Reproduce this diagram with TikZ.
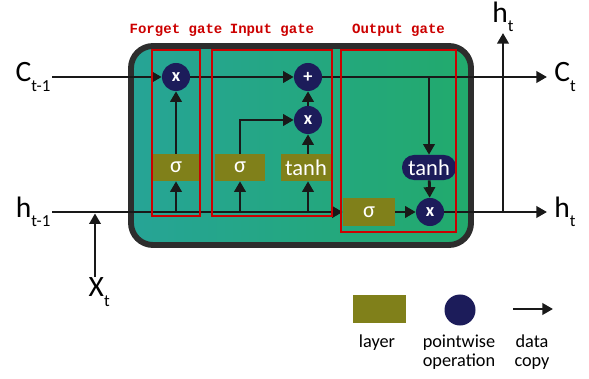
\documentclass[tikz,border=0pt]{standalone}
\usepackage{fontspec}
\setmainfont{Carlito}
\newfontfamily\gatefont{Liberation Mono}
\usetikzlibrary{arrows.meta,positioning}
\definecolor{cellleft}{RGB}{38,164,150}
\definecolor{cellright}{RGB}{34,170,108}
\definecolor{cellrim}{RGB}{45,45,45}
\definecolor{layerolive}{RGB}{128,128,26}
\definecolor{opnavy}{RGB}{28,28,90}
\definecolor{gatered}{RGB}{204,0,0}
\definecolor{wire}{RGB}{25,25,25}
\newcommand{\lsub}[2]{#1\raisebox{-6.8pt}{\fontsize{12}{12}\selectfont #2}}
\tikzset{
  flow/.style={wire, line width=2pt, -{Triangle[length=7.5pt,width=8pt]}},
  layerbox/.style={fill=layerolive, text=white, minimum width=1.2cm, minimum height=0.675cm, inner sep=0pt, font=\fontsize{16}{16}\selectfont},
  opcircle/.style={circle, fill=opnavy, text=white, minimum size=0.7cm, inner sep=0pt, font=\bfseries\fontsize{13}{13}\selectfont},
  gatebox/.style={draw=gatered, line width=1.4pt, inner sep=0pt},
  gatelbl/.style={text=gatered, inner sep=0pt, font=\gatefont\bfseries\fontsize{10}{10}\selectfont},
  biglbl/.style={inner sep=1pt, font=\fontsize{21}{21}\selectfont},
  legtxt/.style={align=center, inner sep=0pt, font=\fontsize{13}{13.5}\selectfont},
}

\begin{document}
\begin{tikzpicture}[x=0.025cm, y=-0.025cm]
    \useasboundingbox (0,0) rectangle (589,379);

    % 细胞
    \draw[draw=cellrim, line width=4.2pt, rounded corners=0.55cm, left color=cellleft, right color=cellright] (131,46) rectangle (471,245);

    % 端点
    \coordinate (cin) at (52,77);
    \coordinate (hin) at (52,212);
    \coordinate (cout) at (547,77);
    \coordinate (hout) at (547,212);
    \coordinate (htop) at (503,33);
    \coordinate (xbot) at (95,277);

    % 运算与层
    \node[opcircle] (fx) at (176,77) {x};
    \node[opcircle] (iplus) at (308,77) {+};
    \node[opcircle] (ix) at (308,120) {x};
    \node[opcircle] (ox) at (430,212) {x};
    \node[layerbox] (fsig) at (176,167.5) {σ};
    \node[layerbox, minimum width=1.25cm] (isig) at (240,167.5) {σ};
    \node[layerbox, minimum width=1.25cm] (itanh) at (306,167.5) {tanh};
    \node[layerbox, minimum width=1.3cm] (osig) at (369,212) {σ};
    \node[opcircle, rectangle, rounded corners=0.3cm, minimum width=1.35cm, minimum height=0.625cm, font=\fontsize{16}{16}\selectfont] (otanh) at (429,167.5) {tanh};

    % 细胞状态
    \draw[flow] (cin) -- (fx);
    \draw[flow] (fx) -- (iplus);
    \draw[flow] (iplus) -- (cout);
    \draw[flow] (iplus -| otanh) -- (otanh);
    \draw[flow] (otanh) -- (ox);

    % 隐藏状态
    \draw[flow] (hin) -- (osig);
    \draw[flow] (osig) -- (ox);
    \draw[flow] (ox) -- (hout);
    \draw[flow] (htop |- hout) -- (htop);
    \draw[flow] (xbot) -- ([yshift=-1pt]xbot |- hin);

    % 门内连线
    \draw[flow] (fsig |- hin) -- (fsig);
    \draw[flow] (fsig) -- (fx);
    \draw[flow] (isig |- hin) -- (isig);
    \draw[flow] (isig.north) |- (ix);
    \draw[flow] (ix |- hin) -- (ix |- itanh.south);
    \draw[flow] (ix |- itanh.north) -- (ix);
    \draw[flow] (ix) -- (iplus);

    % 门框
    \node[gatebox, minimum width=1.2cm, minimum height=4.15cm] (fgate) at (176,133) {};
    \node[gatebox, minimum width=3cm, minimum height=4.15cm] (igate) at (272,133) {};
    \node[gatebox, minimum width=2.875cm, minimum height=4.55cm] (ogate) at (398.5,141) {};
    \node[gatelbl, above=9pt of fgate] (fgatelbl) {Forget gate};
    \node[gatelbl, above=9pt of igate] (igatelbl) {Input gate};
    \node[gatelbl, above=9pt of ogate.north] (ogatelbl) {Output gate};

    % 标注
    \node[biglbl, anchor=east] (cprevlbl) at (cin) {\lsub{C}{t-1}};
    \node[biglbl, anchor=east] (hprevlbl) at (hin) {\lsub{h}{t-1}};
    \node[biglbl, anchor=west, xshift=4pt] (cnextlbl) at (cout) {\lsub{C}{t}};
    \node[biglbl, anchor=west, xshift=4pt] (hnextlbl) at (hout) {\lsub{h}{t}};
    \node[biglbl, anchor=south, inner sep=0.5pt] (htoplbl) at (htop) {\lsub{h}{t}};
    \node[biglbl, anchor=north, xshift=3pt, inner sep=0.5pt] (xlbl) at (xbot) {\lsub{X}{t}};

    % 图例
    \node[layerbox, minimum width=1.325cm, minimum height=0.7cm] (leglayer) at (379.5,309) {};
    \node[opcircle, minimum size=0.775cm] (legop) at (460,310) {};
    \coordinate (copyl) at (513,309);
    \coordinate (copyr) at (553,309);
    \draw[flow] (copyl) -- (copyr);
    \node[legtxt, anchor=north] (layertxt) at (377,335) {layer};
    \node[legtxt, anchor=north] (optxt) at (459,335) {pointwise\\operation};
    \node[legtxt, anchor=north] (copytxt) at (532,335) {data\\copy};
\end{tikzpicture}
\end{document}
